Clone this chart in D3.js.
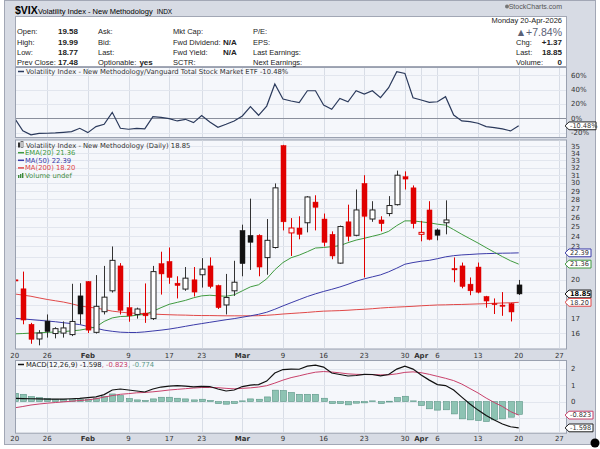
<!DOCTYPE html>
<html>
<head>
<meta charset="utf-8">
<title>$VIX Volatility Index - New Methodology</title>
<script src="https://cdn.jsdelivr.net/npm/d3@7"></script>
<style>
  body { margin: 0; background: #fff; }
  svg text { font-family: "DejaVu Sans", Verdana, sans-serif; }
  .hdr text { font-family: "Liberation Sans", Arial, sans-serif; }
</style>
</head>
<body>
<svg id="chart" width="600" height="449"></svg>
<script>
// ---- data (trading days 20-Jan-2026 .. 20-Apr-2026) ----
var opens  = [20.0, 19.26,16.6,15.61,16.83,15.97,16.0,15.9,18.7,19.86, 16.05,17.5,19.1,21.2,17.8,17.3,17.4,17.0,21.4,21.6,
              19.72,19.24,20.0,20.43,21.2,19.53,18.0,19.1,24.6,24.1, 24.1,21.95,22.9,35.1,24.34,24.85,25.4,27.7,25.8,24.2,
              21.45,25.5,24.1,29.95,25.8,25.7,26.4,27.4,30.8,29.4, 24.2,26.8,24.65,25.4,20.97,21.2,19.64,21.1,18.65,18.1,
              17.99,18.1,19.58];
var highs  = [20.1, 20.7,16.7,16.2,17.3,16.4,16.8,19.67,19.72,19.9, 20.4,21.2,23.0,21.45,19.0,17.8,19.7,21.2,22.5,22.9,
              20.3,21.1,21.1,21.9,21.97,19.6,20.5,21.66,25.2,28.1, 24.2,25.8,29.95,35.2,25.9,26.1,28.4,28.5,26.4,24.5,
              25.1,27.4,29.2,31.0,27.8,26.1,28.4,31.6,31.5,29.7, 25.6,27.8,24.8,27.9,21.97,21.5,20.2,21.5,18.7,18.5,
              19.0,18.15,19.99];
var lows   = [19.8, 16.6,15.3,15.2,15.7,15.65,15.7,15.8,16.6,16.0, 15.97,17.3,18.96,17.3,16.78,17.0,16.7,16.9,18.8,19.67,
              18.5,19.1,18.65,19.36,19.3,17.7,17.3,18.7,20.3,20.85, 20.3,20.43,22.8,24.6,22.1,23.7,24.4,24.6,23.0,21.8,
              21.4,23.5,24.0,20.2,25.5,24.5,26.1,27.3,29.2,24.8, 23.5,23.6,23.6,24.2,19.8,19.3,18.75,18.9,17.8,17.33,
              17.2,16.8,18.77];
var closes = [19.9, 16.9,15.59,16.0,16.1,16.3,16.35,16.8,17.33,16.2, 17.9,18.6,21.7,17.6,17.2,17.7,17.2,20.7,20.5,20.2,
              19.53,20.14,19.0,20.92,19.45,17.8,18.57,19.8,21.4,23.4, 21.1,23.6,29.4,25.5,24.85,24.2,28.3,27.1,23.4,22.1,
              25.0,24.0,26.8,26.1,26.8,25.3,27.3,31.0,30.5,25.3, 24.4,23.7,24.1,25.7,20.85,19.45,19.1,18.99,18.3,18.05,
              17.9,17.48,18.85];

var ema20  = [15.95, 15.97,16.0,16.02,16.05,16.07,16.1,16.15,16.2,16.3, 16.42,16.8,17.05,17.15,17.17,17.24,17.31,17.53,17.8,18.05,
              18.2,18.35,18.55,18.7,18.75,18.7,18.67,18.78,19.1,19.42, 19.59,20.08,20.86,21.5,21.94,22.18,22.5,22.85,22.9,22.98,
              23.08,23.37,23.62,23.8,24.0,24.2,24.5,25.1,25.6,25.6, 25.5,25.4,25.25,25.15,24.68,24.2,23.76,23.33,22.88,22.45,
              22.04,21.66,21.36];
var ma50   = [17.02, 16.98,16.93,16.88,16.83,16.78,16.71,16.65,16.58,16.45, 16.33,16.2,16.12,16.06,16.04,16.04,16.08,16.14,16.2,16.27,
              16.36,16.46,16.56,16.65,16.74,16.83,16.92,17.0,17.1,17.2, 17.31,17.46,17.68,17.93,18.17,18.41,18.65,18.86,19.05,19.22,
              19.41,19.63,19.88,20.08,20.25,20.42,20.68,21.0,21.35,21.5, 21.62,21.7,21.85,22.02,22.13,22.2,22.24,22.29,22.32,22.34,
              22.36,22.37,22.39];
var ma200  = [18.85, 18.76,18.67,18.54,18.42,18.32,18.22,18.09,17.93,17.84, 17.77,17.66,17.54,17.47,17.41,17.38,17.36,17.33,17.3,17.28,
              17.26,17.25,17.23,17.22,17.22,17.21,17.2,17.2,17.2,17.2, 17.21,17.24,17.28,17.33,17.37,17.41,17.45,17.5,17.54,17.56,
              17.58,17.61,17.65,17.68,17.72,17.77,17.81,17.84,17.87,17.9, 17.94,17.97,18.0,18.01,18.03,18.04,18.06,18.08,18.1,18.13,
              18.15,18.17,18.2];

// $VIX / VTI, % change since first day
var ratioPct = [0, -17.5,-23,-21,-20.8,-20.3,-19.5,-18.5,-13.9,-19.9, -11.5,-8.3,8.3,-13.9,-15.2,-13.9,-14.8,2.3,1.4,-0.5,
                -3.7,-1.4,-6,3.7,-5,-12.5,-8.3,-3.7,3.2,16.2, 4.2,17,47.6,26.8,24,21.7,38.3,38.3,18.5,12.5,
                27.7,23,38.3,33.7,38.3,28.6,42.5,64.7,62.4,28.6, 25.4,22.2,23,30,4.6,-3.7,-4.6,-6.9,-11.5,-12.9,
                -14.8,-17.5,-10.48];

var macdLine = [0.19, 0.18,0.17,0.16,0.15,0.15,0.15,0.17,0.19,0.24, 0.28,0.42,0.7,0.76,0.7,0.64,0.58,0.76,0.88,0.94,
                0.96,0.94,0.89,0.92,0.91,0.76,0.64,0.7,0.91,1.0, 1.03,1.24,1.73,1.94,1.97,1.96,2.15,2.21,2.09,1.73,
                1.64,1.55,1.58,1.65,1.64,1.56,1.64,1.97,2.15,1.97, 1.61,1.3,1.03,0.97,0.7,0.27,-0.15,-0.52,-0.85,-1.12,
                -1.36,-1.53,-1.598];
var signalLine = [-0.38, -0.30,-0.21,-0.15,-0.10,-0.06,-0.02,0.02,0.06,0.10, 0.17,0.27,0.36,0.44,0.48,0.53,0.55,0.59,0.64,0.70,
                0.74,0.78,0.82,0.85,0.85,0.84,0.80,0.77,0.80,0.83, 0.88,0.96,1.12,1.30,1.45,1.56,1.68,1.78,1.82,1.79,
                1.74,1.68,1.65,1.64,1.63,1.62,1.62,1.68,1.77,1.80, 1.75,1.65,1.53,1.41,1.27,1.06,0.79,0.52,0.21,-0.06,
                -0.30,-0.61,-0.823];
var macdHist = [0.5, 0.44,0.3,0.24,0.18,0.14,0.14,0.14,0.14,0.14, 0.2,0.3,0.46,0.36,0.18,0.1,0.06,0.16,0.26,0.26,
                0.2,0.16,0.1,0.14,0.06,-0.12,-0.16,-0.12,0.04,0.16, 0.14,0.28,0.69,0.67,0.55,0.44,0.44,0.44,0.2,-0.12,
                -0.12,-0.2,-0.1,-0.08,0.04,-0.12,0.02,0.24,0.32,0.04, -0.24,-0.44,-0.52,-0.5,-0.75,-1.05,-1.11,-1.15,-1.21,-1.11,
                -1.05,-0.95,-0.774];

var tickIdx   = [0, 4, 9, 14, 19, 23, 28, 33, 38, 43, 48, 50, 52, 57, 62, 67];
var tickLabel = ["20","26","Feb","9","17","23","Mar","9","16","23","30","Apr","6","13","20","27"];
var priceGrid  = [16,17,18,19,20,21,22,23,24,25,26,27,28,29,30,31,32,33,34,35];
var priceTicks = [16,17,20,23,24,25,26,27,28,29,30,31,32,33,34,35];
var pctTicks   = [60, 40, 20, 0, -20];
var macdGrid   = [2, 1, 0, -1];
var macdTicks  = [2, 1, 0];

// ---- layout ----
var L = 15, R = 566;
var P1 = {top: 67, bot: 137};      // ratio panel
var P2 = {top: 139.5, bot: 348.5}; // price panel
var P3 = {top: 360, bot: 432.7};   // MACD panel

var x = d3.scaleLinear().domain([0, 62]).range([14.7, 518.7]);
var yPct  = d3.scaleLinear().domain([-26, 71.3]).range([P1.bot, P1.top]);
var yPx   = d3.scaleLog().domain([15, 36]).range([P2.bot, P2.top]);
var yMacd = d3.scaleLinear().domain([-1.89, 2.52]).range([P3.bot, P3.top]);

var red = "#e00000", txt = "#333";
var svg = d3.select("#chart");

// outer frame
svg.append("rect").attr("x", 4.5).attr("y", 0.5).attr("width", 591).attr("height", 444)
   .attr("fill", "#d7dbe4").attr("stroke", "#a2a7b5");

// ---- header ----
var hdr = svg.append("g").attr("class", "hdr");
hdr.append("text").attr("x", 15).attr("y", 13.5).attr("font-size", 10.5).attr("font-weight", "bold").text("$VIX");
var ttl = hdr.append("text").attr("x", 38).attr("y", 13.5).attr("font-size", 7.5).text("Volatility Index - New Methodology");
hdr.append("text").attr("x", 38 + ttl.node().getComputedTextLength() + 4).attr("y", 13.5).attr("font-size", 6.5).text("INDX");
hdr.append("circle").attr("cx", 507).attr("cy", 6.5).attr("r", 2).attr("fill", "#777");
hdr.append("text").attr("x", 562).attr("y", 9).attr("text-anchor", "end").attr("font-size", 7)
   .attr("fill", "#555").text("StockCharts.com");

svg.append("rect").attr("x", 15.5).attr("y", 16.5).attr("width", 551).attr("height", 50)
   .attr("fill", "#fff").attr("stroke", "#a2a7b5");

var info = svg.append("g").attr("class", "hdr").attr("font-size", 7.5).attr("fill", "#222");
var rowsY = [34.4, 44.8, 55, 65];
function lab(xp, yp, s, bold, anchor) {
  return info.append("text").attr("x", xp).attr("y", yp).attr("font-weight", bold ? "bold" : null)
      .attr("font-size", bold ? 8 : 7.5).attr("text-anchor", anchor || "start").text(s);
}
["Open:", "High:", "Low:", "Prev Close:"].forEach(function (s, i) { lab(17, rowsY[i], s); });
["19.58", "19.99", "18.77", "17.48"].forEach(function (s, i) { lab(78, rowsY[i], s, true, "end"); });
var optLab;
["Ask:", "Bid:", "Last:", "Optionable:"].forEach(function (s, i) { optLab = lab(98, rowsY[i], s); });
lab(98 + optLab.node().getComputedTextLength() + 3, rowsY[3], "yes", true);
["Mkt Cap:", "Fwd Dividend:", "Fwd Yield:", "SCTR:"].forEach(function (s, i) { lab(173, rowsY[i], s); });
lab(223, rowsY[1], "N/A", true);
lab(223, rowsY[2], "N/A", true);
["P/E:", "EPS:", "Last Earnings:", "Next Earnings:"].forEach(function (s, i) { lab(253, rowsY[i], s); });
lab(562, 23.3, "Monday  20-Apr-2026", false, "end");
info.append("text").attr("x", 562).attr("y", 35.5).attr("text-anchor", "end").attr("font-size", 10.5)
    .attr("fill", "#5b6176").text("\u25B2+7.84%");
lab(516, 44.6, "Chg:"); lab(562, 44.6, "+1.37", true, "end");
lab(516, 54.8, "Last:"); lab(562, 54.8, "18.85", true, "end");
lab(516, 65, "Volume:"); lab(562, 65, "0", true, "end");

// ---- panels ----
function panel(p, id) {
  svg.append("rect").attr("x", L + 0.5).attr("y", p.top + 0.5).attr("width", R - L).attr("height", p.bot - p.top)
     .attr("fill", "#f5f7fb").attr("stroke", "#9aa1b0");
  svg.append("clipPath").attr("id", id).append("rect")
     .attr("x", L + 1).attr("y", p.top + 1).attr("width", R - L - 1).attr("height", p.bot - p.top - 1);
  var g = svg.append("g").attr("clip-path", "url(#" + id + ")");
  g.selectAll("line.v").data(tickIdx).join("line")
   .attr("x1", function (d) { return Math.round(x(d)) + 0.5; }).attr("x2", function (d) { return Math.round(x(d)) + 0.5; })
   .attr("y1", p.top).attr("y2", p.bot).attr("stroke", "#d8dde6");
  return g;
}
function hgrid(g, ticks, y, col) {
  g.selectAll(null).data(ticks).join("line")
   .attr("x1", L).attr("x2", R)
   .attr("y1", function (d) { return Math.round(y(d)) + 0.5; }).attr("y2", function (d) { return Math.round(y(d)) + 0.5; })
   .attr("stroke", function (d) { return col ? col(d) : "#e2e6ee"; });
}
function rightLabels(ticks, y, fmt) {
  svg.append("g").selectAll("text").data(ticks).join("text")
     .attr("x", 571).attr("y", function (d) { return y(d); }).attr("dy", "0.35em")
     .attr("font-size", 7).attr("fill", txt).text(fmt);
}
function tagBox(v, y, s, col, opt) {
  opt = opt || {};
  var yy = y(v), h = 7.8, w = opt.w || 22, x0 = 565;
  svg.append("path")
     .attr("d", "M" + x0 + "," + yy + "L" + (x0 + 4) + "," + (yy - h / 2) + "H" + (x0 + 4 + w) + "V" + (yy + h / 2) + "H" + (x0 + 4) + "Z")
     .attr("fill", "#fff").attr("stroke", col);
  svg.append("text").attr("x", x0 + 5).attr("y", yy).attr("dy", "0.35em").attr("font-size", 6.6)
     .attr("font-weight", opt.bold ? "bold" : null).attr("fill", opt.fill || txt).text(s);
}
function xLabels(yp) {
  svg.append("g").selectAll("text").data(tickIdx).join("text")
     .attr("x", function (d) { return x(d); }).attr("y", yp).attr("text-anchor", "middle")
     .attr("font-size", 7).attr("fill", txt)
     .attr("font-weight", function (d, i) { return isNaN(+tickLabel[i]) ? "bold" : null; })
     .text(function (d, i) { return tickLabel[i]; });
}

// ratio panel
var g1 = panel(P1, "c1");
hgrid(g1, pctTicks, yPct, function (d) { return d === 0 ? "#8a8f9c" : "#e2e6ee"; });
g1.append("path").datum(ratioPct)
  .attr("d", d3.line().x(function (d, i) { return x(i); }).y(function (d) { return yPct(d); }))
  .attr("fill", "none").attr("stroke", "#2b3a5c").attr("stroke-width", 1.2);
rightLabels(pctTicks, yPct, function (d) { return d + "%"; });
tagBox(-10.48, yPct, "-10.48%", "#222", {w: 27});
svg.append("line").attr("x1", 18).attr("x2", 24).attr("y1", 71.5).attr("y2", 71.5).attr("stroke", "#2b3a5c").attr("stroke-width", 1.5);
svg.append("text").attr("x", 26).attr("y", 74).attr("font-size", 6.8).attr("fill", txt)
   .text("Volatility Index - New Methodology/Vanguard Total Stock Market ETF -10.48%");

// price panel
var g2 = panel(P2, "c2");
hgrid(g2, priceGrid, yPx);
function maLine(arr, col) {
  g2.append("path").datum(arr)
    .attr("d", d3.line().x(function (d, i) { return x(i); }).y(function (d) { return yPx(d); }))
    .attr("fill", "none").attr("stroke", col).attr("stroke-width", 1);
}
maLine(ma200, "#e04848");
maLine(ma50, "#3b3ba8");
maLine(ema20, "#3f9a3f");

var candles = closes.map(function (c, i) {
  return {i: i, o: opens[i], h: highs[i], l: lows[i], c: c, prev: i > 0 ? closes[i - 1] : opens[i]};
});
var bw = 5;
var cg = g2.selectAll("g.candle").data(candles).join("g");
cg.append("line")
  .attr("x1", function (d) { return Math.round(x(d.i)) + 0.5; }).attr("x2", function (d) { return Math.round(x(d.i)) + 0.5; })
  .attr("y1", function (d) { return yPx(d.h); }).attr("y2", function (d) { return yPx(d.l); })
  .attr("stroke", function (d) { return d.c < d.prev ? red : "#333"; });
cg.append("rect")
  .attr("x", function (d) { return Math.round(x(d.i)) - 2; })
  .attr("y", function (d) { return yPx(Math.max(d.o, d.c)); })
  .attr("width", bw)
  .attr("height", function (d) { return Math.max(1, yPx(Math.min(d.o, d.c)) - yPx(Math.max(d.o, d.c))); })
  .attr("fill", function (d) { return d.c > d.o ? "#fff" : (d.c < d.prev ? red : "#111"); })
  .attr("stroke", function (d) { return d.c < d.prev ? red : "#222"; })
  .attr("stroke-width", function (d) { return d.c > d.o ? 1 : 0.5; });

rightLabels(priceTicks, yPx, function (d) { return d; });
tagBox(22.39, yPx, "22.39", "#3b3ba8");
tagBox(21.36, yPx, "21.36", "#3f9a3f");
tagBox(18.85, yPx, "18.85", "#111", {bold: true, fill: "#000"});
tagBox(18.20, yPx, "18.20", "#e04848");

// price legend
var leg = svg.append("g").attr("font-size", 6.8);
leg.append("rect").attr("x", 18).attr("y", 142.5).attr("width", 2).attr("height", 5).attr("fill", "#333");
leg.append("rect").attr("x", 21).attr("y", 141.5).attr("width", 2).attr("height", 6).attr("fill", "#fff").attr("stroke", "#333").attr("stroke-width", 0.6);
leg.append("text").attr("x", 26).attr("y", 147.5).attr("fill", txt).text("Volatility Index - New Methodology (Daily) 18.85");
var legItems = [["EMA(20) 21.36", "#3f9a3f"], ["MA(50) 22.39", "#3b3ba8"], ["MA(200) 18.20", "#e04848"]];
legItems.forEach(function (d, k) {
  var yy = 152.7 + k * 7.6;
  leg.append("line").attr("x1", 18).attr("x2", 24).attr("y1", yy).attr("y2", yy).attr("stroke", d[1]).attr("stroke-width", 1.5);
  leg.append("text").attr("x", 25).attr("y", yy + 2.5).attr("fill", d[1]).text(d[0]);
});
[0, 1, 2].forEach(function (k) {
  leg.append("rect").attr("x", 18 + k * 2).attr("y", 173 + (2 - k)).attr("width", 1.4).attr("height", 3 + k).attr("fill", "#3d8a3d");
});
leg.append("text").attr("x", 25).attr("y", 178.4).attr("fill", "#3d8a3d").text("Volume undef");

xLabels(357.5);

// MACD panel
var g3 = panel(P3, "c3");
hgrid(g3, macdGrid, yMacd);
g3.selectAll("rect.h").data(macdHist).join("rect")
  .attr("x", function (d, i) { return Math.round(x(i)) - 2.5; })
  .attr("y", function (d) { return Math.min(yMacd(d), yMacd(0)); })
  .attr("width", 6)
  .attr("height", function (d) { return Math.max(0.8, Math.abs(yMacd(d) - yMacd(0))); })
  .attr("fill", "#8dc3b3").attr("stroke", "#5a9485").attr("stroke-width", 0.6);
g3.append("path").datum(signalLine)
  .attr("d", d3.line().x(function (d, i) { return x(i); }).y(function (d) { return yMacd(d); }))
  .attr("fill", "none").attr("stroke", "#c8406a").attr("stroke-width", 1);
g3.append("path").datum(macdLine)
  .attr("d", d3.line().x(function (d, i) { return x(i); }).y(function (d) { return yMacd(d); }))
  .attr("fill", "none").attr("stroke", "#111").attr("stroke-width", 1.2);
rightLabels(macdTicks, yMacd, function (d) { return d; });
tagBox(-0.823, yMacd, "-0.823", "#c8406a", {w: 24});
tagBox(-1.598, yMacd, "-1.598", "#222", {w: 24});
svg.append("line").attr("x1", 18).attr("x2", 24).attr("y1", 364.5).attr("y2", 364.5).attr("stroke", "#111").attr("stroke-width", 1.5);
var mt = svg.append("text").attr("x", 26).attr("y", 367).attr("font-size", 6.8);
mt.append("tspan").attr("fill", "#222").text("MACD(12,26,9) -1.598");
mt.append("tspan").attr("fill", "#c8406a").text(", -0.823");
mt.append("tspan").attr("fill", "#5a9a8a").text(", -0.774");

xLabels(440.5);

svg.append("circle").attr("cx", 595).attr("cy", 443).attr("r", 4.5).attr("fill", "#000");
</script>
</body>
</html>
